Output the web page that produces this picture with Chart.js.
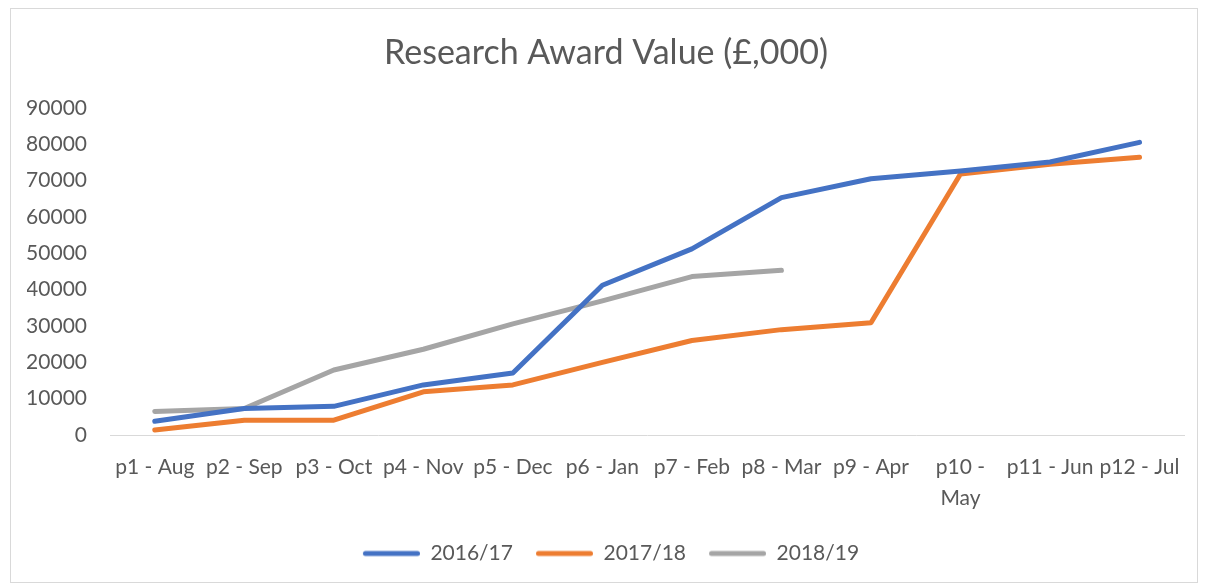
<!DOCTYPE html>
<html>
<head>
<meta charset="utf-8">
<script src="https://cdn.jsdelivr.net/npm/chart.js@4"></script>
<style>
  body { margin: 0; background: #fff; }
  #wrap {
    position: absolute; left: 10px; top: 8px;
    width: 1188px; height: 575px;
    border: 1px solid #d9d9d9; box-sizing: border-box;
  }
</style>
</head>
<body>
<div id="wrap"><canvas id="awardChart"></canvas></div>
<script>
const periods = ["p1 - Aug", "p2 - Sep", "p3 - Oct", "p4 - Nov", "p5 - Dec", "p6 - Jan",
  "p7 - Feb", "p8 - Mar", "p9 - Apr", ["p10 -", "May"], "p11 - Jun", "p12 - Jul"];
const values1617 = [3800, 7300, 7900, 13800, 17100, 41200, 51200, 65300, 70500, 72600, 75100, 80500];
const values1718 = [1400, 4100, 4100, 11900, 13800, 20000, 26000, 29000, 30900, 71800, 74500, 76400];
const values1819 = [6500, 7300, 17900, 23600, 30600, 36900, 43600, 45300];

const textColor = "#595959";
const fontFamily = "Lato, 'Open Sans', sans-serif";

// legend swatch: a short thick line sitting at the right of a wider box
function swatch(color) {
  const c = document.createElement("canvas");
  c.width = 67;
  c.height = 8;
  const g = c.getContext("2d");
  g.strokeStyle = color;
  g.lineWidth = 5;
  g.lineCap = "round";
  g.beginPath();
  g.moveTo(12.5, 4);
  g.lineTo(64.5, 4);
  g.stroke();
  return c;
}

function lineSet(label, data, color) {
  return {
    label: label,
    data: data,
    borderColor: color,
    backgroundColor: color,
    borderWidth: 5,
    borderCapStyle: "round",
    borderJoinStyle: "round",
    pointRadius: 0,
    pointStyle: swatch(color),
    tension: 0,
  };
}

new Chart(document.getElementById("awardChart"), {
  type: "line",
  data: {
    labels: periods,
    datasets: [
      lineSet("2016/17", values1617, "#4472c4"),
      lineSet("2017/18", values1718, "#ed7d31"),
      lineSet("2018/19", values1819, "#a5a5a5"),
    ],
  },
  options: {
    responsive: true,
    maintainAspectRatio: false,
    animation: false,
    layout: { padding: { left: 16, right: 12, top: 20, bottom: 8 } },
    plugins: {
      title: {
        display: true,
        text: "Research Award Value (£,000)",
        color: textColor,
        font: { family: fontFamily, size: 34, weight: "normal" },
        padding: { top: 4, bottom: 34 },
      },
      legend: {
        position: "bottom",
        labels: {
          color: textColor,
          font: { family: fontFamily, size: 21 },
          usePointStyle: true,
          pointStyleWidth: 67,
          padding: 13,
        },
      },
      tooltip: { enabled: false },
    },
    scales: {
      x: {
        offset: true,
        grid: { display: false, drawTicks: false },
        border: { display: true, color: "#d9d9d9", width: 1 },
        ticks: {
          color: textColor,
          font: { family: fontFamily, size: 21, lineHeight: 1.45 },
          maxRotation: 0,
          autoSkip: false,
          padding: 17,
        },
      },
      y: {
        min: 0,
        max: 90000,
        grid: { display: false, drawTicks: false },
        border: { display: false },
        afterFit: (axis) => { axis.width = 83; },
        ticks: {
          stepSize: 10000,
          color: textColor,
          font: { family: fontFamily, size: 21 },
          padding: 23,
          callback: (value) => String(value),
        },
      },
    },
  },
});
</script>
</body>
</html>
